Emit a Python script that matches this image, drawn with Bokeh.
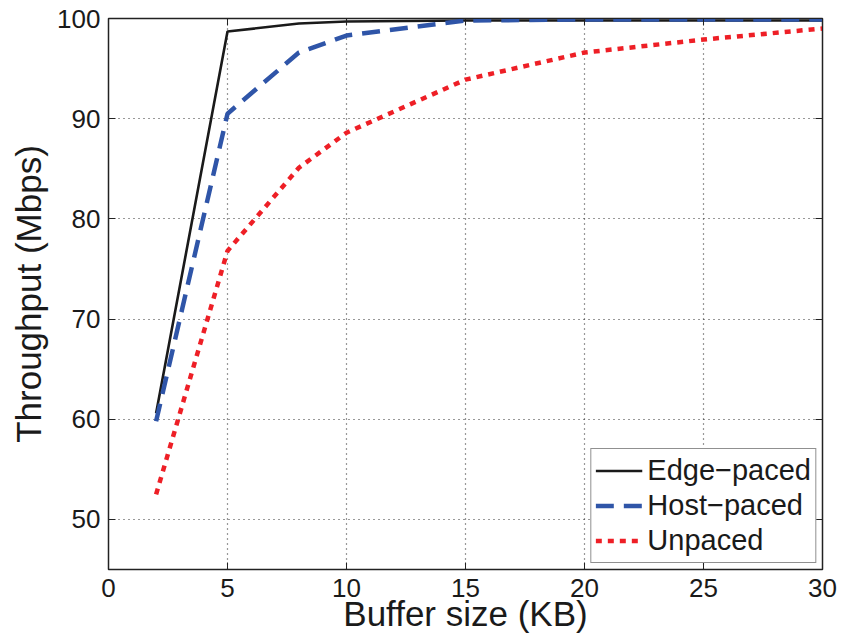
from bokeh.plotting import figure
from bokeh.models import LinearAxis, Range1d, FixedTicker, Legend, LegendItem
from bokeh.embed import file_html
from bokeh.resources import INLINE

buffer_kb = [2, 5, 8, 10, 15, 20, 25, 30]
edge_paced = [60.6, 98.7, 99.5, 99.7, 99.8, 99.8, 99.8, 99.8]
host_paced = [59.8, 90.5, 96.6, 98.3, 99.8, 99.9, 99.9, 99.9]
unpaced = [52.5, 76.8, 85.1, 88.6, 93.9, 96.6, 97.9, 99.0]

x_ticks = [0, 5, 10, 15, 20, 25, 30]
y_ticks = [50, 60, 70, 80, 90, 100]

FONT = "Liberation Sans"

p = figure(width=838, height=638, output_backend="svg", toolbar_location=None,
           x_range=Range1d(0, 30), y_range=Range1d(45, 100),
           min_border_left=108, min_border_top=18, min_border_right=16, min_border_bottom=69)
p.outline_line_color = "#222222"
p.outline_line_width = 1.5

for ax in (p.xaxis[0], p.yaxis[0]):
    ax.major_tick_in = 7
    ax.major_tick_out = 0
    ax.minor_tick_line_color = None
    ax.axis_line_color = "#222222"
    ax.major_tick_line_color = "#222222"
    ax.major_label_text_font = FONT
    ax.major_label_text_font_size = "26px"
    ax.major_label_text_color = "#1a1a1a"
    ax.axis_label_text_font = FONT
    ax.axis_label_text_font_size = "35px"
    ax.axis_label_text_font_style = "normal"
    ax.axis_label_text_color = "#1a1a1a"

p.xaxis[0].ticker = FixedTicker(ticks=x_ticks)
p.yaxis[0].ticker = FixedTicker(ticks=y_ticks)
p.xaxis[0].axis_label = "Buffer size (KB)"
p.yaxis[0].axis_label = "Throughput (Mbps)"
p.xaxis[0].major_label_standoff = 9
p.yaxis[0].major_label_standoff = 8
p.xaxis[0].axis_label_standoff = -6
p.yaxis[0].axis_label_standoff = 6

top = LinearAxis(ticker=FixedTicker(ticks=x_ticks), major_label_text_font_size="1px",
                 major_label_text_color=None, major_label_standoff=0,
                 major_tick_in=7, major_tick_out=0, minor_tick_line_color=None,
                 axis_line_color="#222222", major_tick_line_color="#222222")
right = LinearAxis(ticker=FixedTicker(ticks=y_ticks), major_label_text_font_size="1px",
                   major_label_text_color=None, major_label_standoff=0,
                   major_tick_in=7, major_tick_out=0, minor_tick_line_color=None,
                   axis_line_color="#222222", major_tick_line_color="#222222")
p.add_layout(top, "above")
p.add_layout(right, "right")

p.xgrid.ticker = FixedTicker(ticks=x_ticks)
p.ygrid.ticker = FixedTicker(ticks=y_ticks)
for g in (p.xgrid[0], p.ygrid[0]):
    g.grid_line_color = "#333333"
    g.grid_line_dash = "1 4"
    g.grid_line_width = 1.2

r_edge = p.line(buffer_kb, edge_paced, line_color="#1a1a1a", line_width=2.6)
r_host = p.line(buffer_kb, host_paced, line_color="#2f55a8", line_width=4.5, line_dash="18 10")
r_un = p.line(buffer_kb, unpaced, line_color="#ee1f26", line_width=4.5, line_dash="6 6")

legend = Legend(items=[LegendItem(label="Edge\u2212paced", renderers=[r_edge]),
                       LegendItem(label="Host\u2212paced", renderers=[r_host]),
                       LegendItem(label="Unpaced", renderers=[r_un])],
                location="bottom_right")
legend.label_text_font = FONT
legend.label_text_font_size = "29px"
legend.label_text_color = "#1a1a1a"
legend.border_line_color = "#222222"
legend.border_line_width = 1.5
legend.margin = 6
legend.padding = 4
legend.spacing = 0
legend.glyph_width = 47
legend.glyph_height = 35
legend.label_height = 35
legend.label_standoff = 5
legend.background_fill_alpha = 1
p.add_layout(legend, "center")

open("out.html", "w").write(file_html(p, INLINE))
